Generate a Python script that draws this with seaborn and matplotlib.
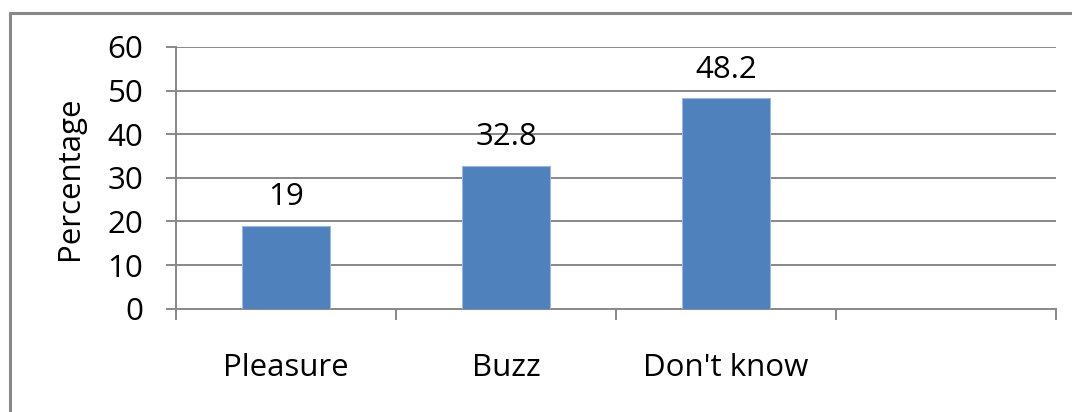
import matplotlib
matplotlib.use("Agg")
import matplotlib.pyplot as plt
import seaborn as sns
import pandas as pd
from matplotlib.lines import Line2D

categories = ["Pleasure", "Buzz", "Don't know"]
values = [19, 32.8, 48.2]
value_labels = ["19", "32.8", "48.2"]
y_ticks = [0, 10, 20, 30, 40, 50, 60]

sns.set_theme(style="white")
plt.rcParams['font.family'] = ['Open Sans', 'DejaVu Sans']

FS = 22.5
W, H = 1072, 412
fig = plt.figure(figsize=(W / 100, H / 100), dpi=100)
ax = fig.add_axes([176 / W, 1 - 308.7 / H, (1056 - 176) / W, (308.7 - 47) / H])

df = pd.DataFrame({"cat": categories, "val": values})
sns.barplot(data=df, x="cat", y="val", ax=ax, color="#4F81BD", saturation=1,
            width=0.4, edgecolor="#9DB7DB", linewidth=0.8, zorder=3)

grid_c = "#888888"
ax.set_xlim(-0.5, 3.5)
ax.set_ylim(0, 60)
ax.set_yticks(y_ticks)
ax.set_yticklabels([str(t) for t in y_ticks])
for t in y_ticks[1:]:
    ax.axhline(t, color=grid_c, lw=1.4, zorder=1)

ax.set_xticks([-0.5, 0.5, 1.5, 2.5, 3.5])
ax.set_xticklabels([])
ax.set_xticks([0, 1, 2], minor=True)
ax.set_xticklabels(categories, minor=True)
ax.tick_params(axis="x", which="major", length=8, width=1.4, color=grid_c, direction="out", bottom=True)
ax.tick_params(axis="x", which="minor", length=0, pad=32, labelsize=FS, labelcolor="black")
ax.tick_params(axis="y", which="major", length=7.5, width=1.4, color=grid_c, direction="out", left=True,
               pad=16, labelsize=FS, labelcolor="black")

for s in ["top", "right"]:
    ax.spines[s].set_visible(False)
for s in ["left", "bottom"]:
    ax.spines[s].set_color(grid_c)
    ax.spines[s].set_linewidth(1.4)

ax.set_xlabel("")
ax.set_ylabel("Percentage", fontsize=FS, color="black", labelpad=16)

for i, (v, lab) in enumerate(zip(values, value_labels)):
    ax.annotate(lab, xy=(i, v), xytext=(0, 15), textcoords="offset points",
                ha="center", va="baseline", fontsize=FS, color="black", zorder=4)

# chart area border (left and top visible)
fig.add_artist(Line2D([10 / W, 10 / W], [0, 1 - 13 / H], transform=fig.transFigure,
                      color=grid_c, lw=2.2))
fig.add_artist(Line2D([10 / W, 1], [1 - 13 / H, 1 - 13 / H], transform=fig.transFigure,
                      color=grid_c, lw=2.2))

fig.savefig("out.png", dpi=100)
